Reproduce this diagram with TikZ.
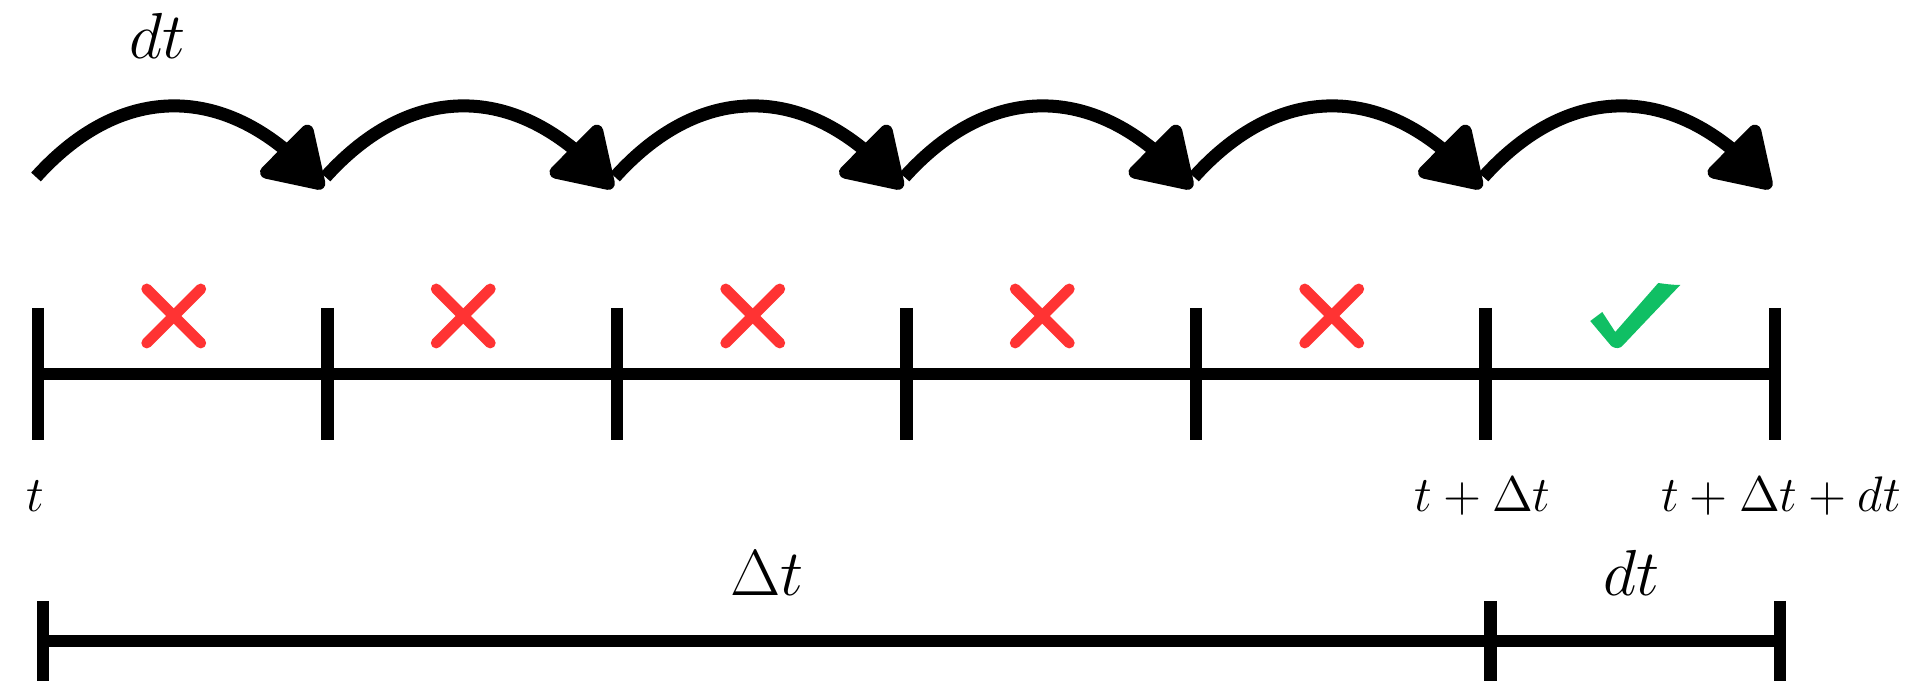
\RequirePackage{fix-cm}
\documentclass[tikz,border=0pt]{standalone}
\usepackage{amsmath}
\usepackage{tikz}
\usetikzlibrary{arrows.meta, bending, calc}

\definecolor{wrongred}{RGB}{255,51,51}
\definecolor{okgreen}{RGB}{16,191,100}

\begin{document}
\begin{tikzpicture}[
    x=0.01cm, y=0.01cm,
    timeline/.style={line width=3.4pt},
    tickmark/.style={line width=3.5pt},
    jump/.style={line width=3.7pt, -{Triangle[length=0.64cm, width=0.78cm, round]}},
    wrong/.style={draw=wrongred, line width=3.1pt, line cap=round},
    ticklabel/.style={font=\fontsize{14.2}{17}\selectfont, anchor=base},
    spanlabel/.style={font=\fontsize{18.5}{22}\selectfont, anchor=base}
]
\useasboundingbox (0,0) rectangle (1920,700);

% Nodes
\foreach \i in {0,...,6} {
    \coordinate (t\i) at ({38+289.5*\i},326);
    \coordinate (b\i) at ({43+289.5*\i},59);
}
\foreach \i [count=\j] in {0,...,4}
    \coordinate (x\i) at ($(t\i)!0.5!(t\j)+(-9,58)$);
\coordinate (ok) at ($(t5)!0.5!(t6)$);

% Time steps
\draw[timeline] (t0) -- (t6);
\foreach \i in {0,...,6}
    \draw[tickmark] ($(t\i)+(0,66)$) -- ($(t\i)+(0,-66)$);
\foreach \i [count=\j] in {0,...,5}
    \draw[timeline] (b\i) -- (b\j);
\foreach \i in {0,5,6}
    \draw[tickmark] ($(b\i)+(0,40)$) -- ($(b\i)+(0,-40)$);

% Arrows
\foreach \i [count=\j] in {0,...,5}
    \draw[jump] ($(t\i)+(-2,197)$) to[out=48, in=130, looseness=1.2] ($(t\j)+(-4,186)$);

% Marks
\foreach \i in {0,...,4} {
    \draw[wrong] ($(x\i)+(-27,-27)$) -- ($(x\i)+(27,27)$);
    \draw[wrong] ($(x\i)+(-27,27)$) -- ($(x\i)+(27,-27)$);
}
\fill[okgreen, shift={(ok)}] (-40,53) -- (-28,62) -- (-15,42) -- (28,91)
    .. controls (35,90) and (43,89) .. (50,89)
    .. controls (30,68) and (8,45) .. (-7,29)
    .. controls (-10,25) and (-15,25) .. (-19,28) -- cycle;

% Labels
\node[spanlabel] at ($(t0)+(120,315)$) {$dt$};
\node[ticklabel] at ($(t0)+(-3,-138)$) {$t$};
\node[ticklabel] at ($(t5)+(-3,-138)$) {$t+\Delta t$};
\node[ticklabel] at ($(t6)+(6,-138)$) {$t+\Delta t+dt$};
\node[spanlabel] at ($(b0)!0.5!(b5)+(0,45)$) {$\Delta t$};
\node[spanlabel] at ($(b5)!0.5!(b6)+(-4,45)$) {$dt$};
\end{tikzpicture}
\end{document}
